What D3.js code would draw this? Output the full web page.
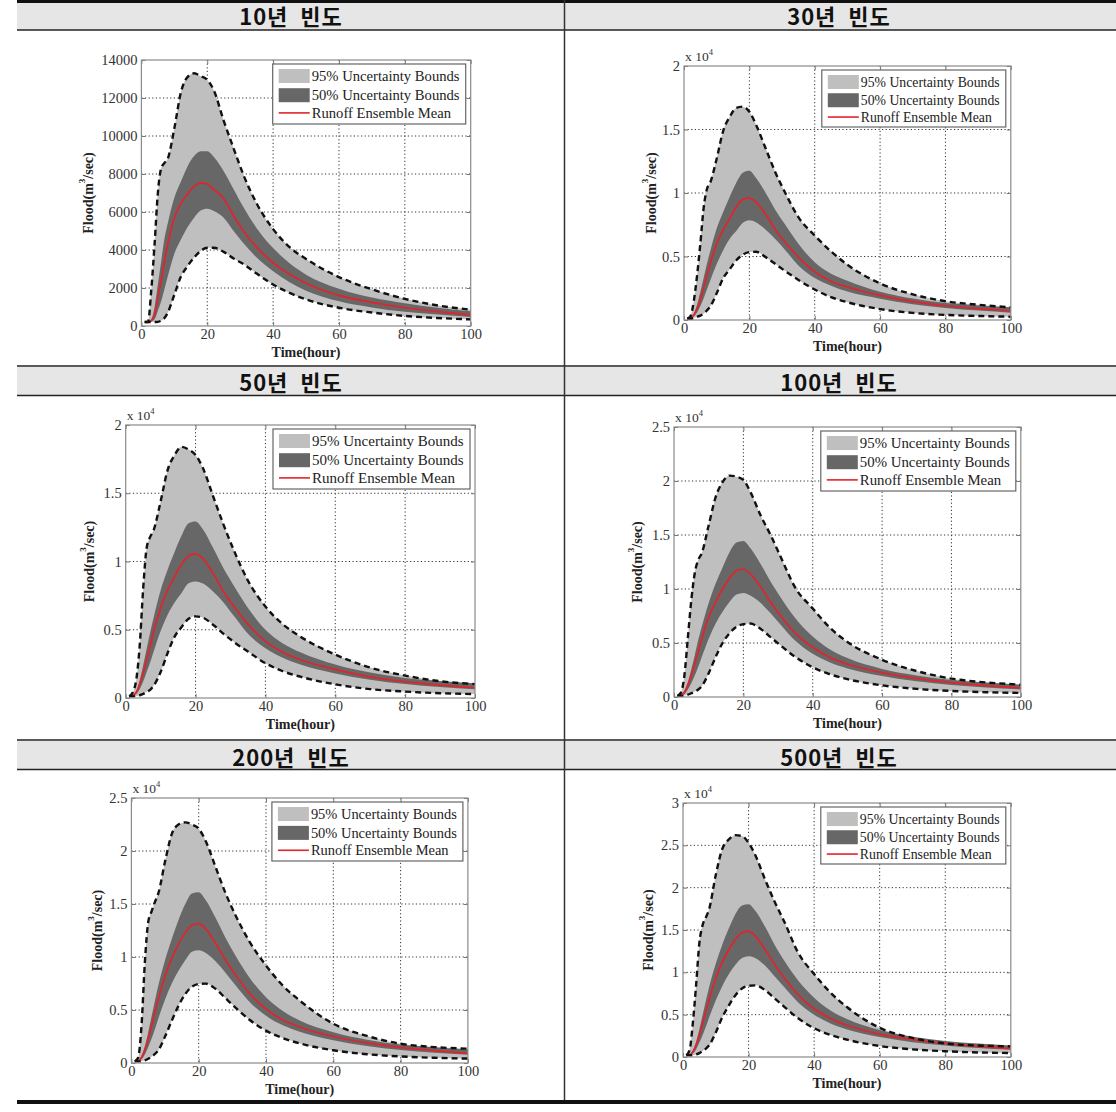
<!DOCTYPE html>
<html><head><meta charset="utf-8">
<script src="https://cdn.jsdelivr.net/npm/d3@7"></script>
<style>body{margin:0;background:#fff}svg{display:block}</style>
</head><body>
<script>
// ---------- data ----------
const T = [1,2,3,4,5,6,7,8,10,12,14,16,18,20,22,25,28,31,35,40,45,50,60,70,80,90,100];
const titles = ["10년 빈도","30년 빈도","50년 빈도","100년 빈도","200년 빈도","500년 빈도"];
const yMax = [14000,20000,20000,25000,25000,30000];
const yTickStep = [2000,5000,5000,5000,5000,5000];
const yScaled = [false,true,true,true,true,true];
const xTicks = [0,20,40,60,80,100];
const legendLabels = ["95% Uncertainty Bounds","50% Uncertainty Bounds","Runoff Ensemble Mean"];
const xLabel = "Time(hour)";

const u95_10 = [210,210,1900,4300,7000,8300,8580,8800,10400,12300,13100,13300,13150,12950,12400,10800,9350,7950,6450,5100,4150,3530,2575,1930,1430,1080,860];
const u50_10 = [200,200,350,1000,2200,3400,4600,5400,6750,7600,8400,8950,9200,9200,8900,8150,7200,6250,5150,4100,3300,2700,1960,1500,1200,960,770];
const mean_10 = [200,200,280,600,1500,2400,3400,4300,5700,6450,6950,7350,7520,7480,7180,6700,5800,5000,4150,3330,2720,2250,1610,1240,960,760,580];
const l50_10 = [200,200,240,350,800,1300,1950,2600,3800,4550,5200,5700,6080,6170,6050,5700,5000,4350,3600,2880,2300,1860,1300,980,750,600,470];
const l95_10 = [210,210,210,210,220,280,420,700,1650,2600,3150,3600,3950,4120,4120,3900,3550,3260,2760,2180,1740,1400,960,710,530,420,350];

const u95_30 = [100,300,1500,3500,6000,8800,10300,10800,12700,14900,16000,16700,16800,16400,15400,13500,11600,10000,8100,6650,5400,4350,2880,2020,1480,1200,1000];
const u50_30 = [100,200,500,1200,2200,3300,4400,5400,7200,8500,9700,10800,11600,11750,11200,10000,8650,7500,6000,4550,3650,3100,2230,1690,1340,1150,1000];
const mean_30 = [100,200,400,900,1600,2500,3500,4400,6000,7100,8000,8900,9500,9600,9300,8300,7100,6100,4950,3800,3050,2600,1940,1450,1120,900,730];
const l50_30 = [100,150,300,600,1100,1700,2400,3100,4400,5500,6400,7000,7650,7860,7700,7100,6350,5500,4300,3300,2700,2240,1680,1240,940,740,580];
const l95_30 = [100,100,150,250,350,500,750,1050,2100,3300,4000,4700,5150,5350,5370,4950,4400,3850,3150,2400,1800,1400,860,560,400,320,260];

const u95_50 = [120,400,1300,3800,8000,11000,11800,12300,14400,16700,17800,18400,18200,17800,16900,14800,12700,10800,8600,6700,5400,4500,3180,2230,1640,1230,1020];
const u50_50 = [120,200,500,1300,2400,3600,4800,5900,7900,9400,10700,11900,12800,12930,12400,11000,9500,8200,6600,5000,4000,3350,2450,1860,1470,1250,1080];
const mean_50 = [120,200,400,1000,1800,2800,3800,4900,6600,7900,8900,9800,10400,10560,10250,9150,7800,6700,5400,4150,3350,2800,2100,1550,1200,950,750];
const l50_50 = [120,150,300,650,1200,1900,2600,3400,4900,6100,7000,7700,8400,8540,8400,7800,7000,6000,4700,3650,2950,2450,1800,1340,1020,800,640];
const l95_50 = [120,120,150,200,300,450,600,900,1900,3300,4500,5200,5800,5980,5900,5370,4700,4100,3400,2550,1960,1560,1000,650,470,350,290];

const u95_100 = [100,400,2000,5500,9000,11500,12700,13300,15900,18500,19900,20500,20400,20100,19000,16800,14900,12800,10100,8200,6400,5100,3450,2400,1700,1350,1140];
const u50_100 = [100,200,600,1400,2600,3900,5300,6500,8700,10500,12000,13400,14300,14450,13800,12300,10600,9100,7300,5600,4400,3600,2600,2000,1580,1340,1150];
const mean_100 = [100,200,400,1100,2000,3100,4200,5400,7400,8800,10000,11000,11700,11830,11400,10200,8700,7400,5900,4600,3650,3050,2250,1700,1330,1050,830];
const l50_100 = [100,150,300,700,1300,2000,2800,3700,5400,6800,7900,8800,9500,9640,9400,8700,7700,6600,5200,4000,3200,2650,1950,1450,1100,870,700];
const l95_100 = [100,100,150,220,350,500,700,1000,2200,3700,5000,5900,6500,6750,6800,6300,5500,4700,3700,2750,2100,1650,1080,750,560,440,380];

const u95_200 = [150,500,3500,9500,13300,14300,15200,16000,19000,21600,22500,22700,22500,22100,21000,18500,16000,13900,11500,9200,7300,5900,3700,2550,1820,1500,1350];
const u50_200 = [150,250,700,1600,2900,4400,5900,7300,9700,11700,13500,15000,16000,16100,15400,13700,11800,10100,8100,6200,4900,4000,2900,2200,1750,1480,1280];
const mean_200 = [150,200,500,1200,2300,3500,4800,6000,8200,9900,11200,12300,13000,13150,12700,11300,9700,8300,6600,5100,4050,3400,2500,1900,1480,1170,920];
const l50_200 = [150,150,350,800,1500,2300,3200,4200,6000,7500,8700,9700,10500,10630,10400,9600,8500,7300,5800,4450,3550,2950,2150,1600,1230,970,780];
const l95_200 = [150,150,180,250,400,600,850,1200,2500,4000,5400,6500,7200,7450,7490,7000,6100,5200,4100,3050,2350,1850,1200,830,620,490,420];

const u95_500 = [200,800,4000,8500,13500,15600,16500,17500,21500,24600,25700,26200,26100,25300,23900,21000,18300,15900,12400,9800,7600,5900,3450,2250,1600,1350,1260];
const u50_500 = [200,300,800,1800,3300,5000,6700,8300,11000,13300,15200,16900,17900,18050,17300,15400,13200,11300,9100,7000,5500,4500,3200,2400,1900,1580,1350];
const mean_500 = [200,250,600,1400,2600,4000,5400,6800,9300,11200,12700,13900,14700,14840,14300,12700,10900,9300,7400,5700,4550,3750,2700,2050,1600,1260,1000];
const l50_500 = [200,200,400,900,1700,2600,3600,4700,6700,8400,9800,10900,11700,11890,11700,10800,9500,8200,6500,5000,3950,3250,2350,1750,1350,1050,850];
const l95_500 = [200,200,220,300,450,700,1000,1400,2900,4700,6100,7300,8100,8400,8460,7900,6900,5900,4600,3400,2600,2050,1300,900,680,540,470];

const panelSeries = [
  [u95_10,u50_10,mean_10,l50_10,l95_10],
  [u95_30,u50_30,mean_30,l50_30,l95_30],
  [u95_50,u50_50,mean_50,l50_50,l95_50],
  [u95_100,u50_100,mean_100,l50_100,l95_100],
  [u95_200,u50_200,mean_200,l50_200,l95_200],
  [u95_500,u50_500,mean_500,l50_500,l95_500]
];

// ---------- layout ----------
const W = 1116, H = 1112;
const layout = [
  {x0:141.4,x1:470.7,y0:60,y1:326,lw:193,lh:60,ylab:53,tx:291,ty:24},
  {x0:684,x1:1010.8,y0:66,y1:320,lw:184,lh:57,ylab:33,tx:839,ty:24},
  {x0:125.7,x1:475,y0:425,y1:698,lw:197,lh:60,ylab:37,tx:291,ty:390},
  {x0:674,x1:1020.8,y0:427,y1:697,lw:195,lh:60,ylab:37,tx:839,ty:390},
  {x0:131.4,x1:467.9,y0:798,y1:1063,lw:191,lh:59,ylab:34,tx:291,ty:765},
  {x0:683,x1:1010.8,y0:803,y1:1057,lw:185,lh:57,ylab:35,tx:839,ty:765}
];
const C95 = "#bfbfbf", C50 = "#676767", CRED = "#e3232b";
const SERIF = "'Liberation Serif','Times New Roman',serif";

const svg = d3.select("body").append("svg").attr("width",W).attr("height",H);

// ---------- table frame ----------
const bands = [[3,30],[367,395],[741,769]];
bands.forEach(([a,b])=>{
  svg.append("rect").attr("x",17).attr("y",a).attr("width",W-17).attr("height",b-a).attr("fill","#e6e6e6");
});
svg.append("rect").attr("x",17).attr("y",0).attr("width",W-17).attr("height",3).attr("fill","#111");
[[30,1.6],[366,1.6],[395.5,1.6],[740,1.6],[769.5,1.6]].forEach(([y,w])=>{
  svg.append("line").attr("x1",17).attr("x2",W).attr("y1",y).attr("y2",y).attr("stroke","#222").attr("stroke-width",w);
});
svg.append("rect").attr("x",17).attr("y",1100).attr("width",W-17).attr("height",4).attr("fill","#111");
svg.append("line").attr("x1",564.5).attr("x2",564.5).attr("y1",0).attr("y2",1100).attr("stroke","#333").attr("stroke-width",1.5);

// ---------- panels ----------
panelSeries.forEach((ser,i)=>{
  const L = layout[i];
  const g = svg.append("g");
  const x = d3.scaleLinear().domain([0,100]).range([L.x0,L.x1]);
  const y = d3.scaleLinear().domain([0,yMax[i]]).range([L.y1,L.y0]);
  const yt = d3.range(0,yMax[i]+1,yTickStep[i]);

  // title
  svg.append("text").attr("x",L.tx).attr("y",L.ty+1).attr("text-anchor","middle")
    .attr("font-family","'Noto Sans CJK KR','Noto Sans',sans-serif").attr("font-weight","bold")
    .attr("font-size",22).attr("letter-spacing",1).attr("word-spacing",6).attr("fill","#111")
    .text(titles[i]);

  // grid (under fills)
  const grid = g.append("g").attr("stroke","#333").attr("stroke-width",1).attr("stroke-dasharray","1.2,2.4");
  xTicks.slice(1,-1).forEach(t=>grid.append("line").attr("x1",x(t)).attr("x2",x(t)).attr("y1",L.y0).attr("y2",L.y1));
  yt.slice(1,-1).forEach(v=>grid.append("line").attr("x1",L.x0).attr("x2",L.x1).attr("y1",y(v)).attr("y2",y(v)));

  const rows = T.map((t,k)=>({t,u95:ser[0][k],u50:ser[1][k],m:ser[2][k],l50:ser[3][k],l95:ser[4][k]}));
  const curve = d3.curveMonotoneX;
  g.append("path").datum(rows).attr("fill",C95)
    .attr("d",d3.area().curve(curve).x(d=>x(d.t)).y0(d=>y(d.l95)).y1(d=>y(d.u95)));
  g.append("path").datum(rows).attr("fill",C50)
    .attr("d",d3.area().curve(curve).x(d=>x(d.t)).y0(d=>y(d.l50)).y1(d=>y(d.u50)));
  g.append("path").datum(rows).attr("fill","none").attr("stroke",CRED).attr("stroke-width",1.7)
    .attr("d",d3.line().curve(curve).x(d=>x(d.t)).y(d=>y(d.m)));
  ["u95","l95"].forEach(key=>{
    g.append("path").datum(rows).attr("fill","none").attr("stroke","#111").attr("stroke-width",2.4)
      .attr("stroke-dasharray","6,4")
      .attr("d",d3.line().curve(curve).x(d=>x(d.t)).y(d=>y(d[key])));
  });

  // axes
  const fmtY = yScaled[i] ? (v=>d3.format("~g")(v/10000)) : d3.format("d");
  const axStyle = sel=>{
    sel.select(".domain").remove();
    sel.selectAll(".tick line").attr("stroke","#777");
    sel.selectAll(".tick text").attr("font-family",SERIF).attr("font-size",14.5).attr("fill","#333");
  };
  g.append("g").attr("transform",`translate(0,${L.y1})`)
    .call(d3.axisBottom(x).tickValues(xTicks).tickSizeInner(-4).tickSizeOuter(0).tickPadding(3))
    .call(axStyle);
  g.append("g").attr("transform",`translate(${L.x0},0)`)
    .call(d3.axisLeft(y).tickValues(yt).tickFormat(fmtY).tickSizeInner(-4).tickSizeOuter(0).tickPadding(4))
    .call(axStyle);
  g.append("g").attr("transform",`translate(0,${L.y0})`)
    .call(d3.axisTop(x).tickValues(xTicks).tickFormat("").tickSizeInner(-4).tickSizeOuter(0))
    .call(axStyle);
  g.append("g").attr("transform",`translate(${L.x1},0)`)
    .call(d3.axisRight(y).tickValues(yt).tickFormat("").tickSizeInner(-4).tickSizeOuter(0))
    .call(axStyle);
  g.append("rect").attr("x",L.x0).attr("y",L.y0).attr("width",L.x1-L.x0).attr("height",L.y1-L.y0)
    .attr("fill","none").attr("stroke","#8a8a8a").attr("stroke-width",1.2);

  // exponent label
  if (yScaled[i]) {
    const ex = g.append("text").attr("x",L.x0+1).attr("y",L.y0-5)
      .attr("font-family",SERIF).attr("font-size",13.5).attr("fill","#333").text("x 10");
    ex.append("tspan").attr("dy",-6).attr("font-size",8.5).text("4");
  }

  // axis labels
  g.append("text").attr("x",(L.x0+L.x1)/2).attr("y",L.y1+31).attr("text-anchor","middle")
    .attr("font-family",SERIF).attr("font-weight","bold").attr("font-size",14).attr("fill","#222").text(xLabel);
  const yl = g.append("text").attr("transform",`translate(${L.x0-L.ylab},${(L.y0+L.y1)/2}) rotate(-90)`)
    .attr("text-anchor","middle").attr("dominant-baseline","central")
    .attr("font-family",SERIF).attr("font-weight","bold").attr("font-size",14).attr("fill","#222");
  yl.append("tspan").text("Flood(m");
  yl.append("tspan").attr("dy",-6).attr("font-size",9).text("3");
  yl.append("tspan").attr("dy",6).text("/sec)");

  // legend
  const lx = L.x1-5-L.lw, ly = L.y0+4;
  const lfs = Math.min(15, (L.lw-45)/10.11);
  const lg = g.append("g");
  lg.append("rect").attr("x",lx).attr("y",ly).attr("width",L.lw).attr("height",L.lh)
    .attr("fill","#fff").attr("stroke","#666").attr("stroke-width",1.2);
  const rowY = [ly+12, ly+12+L.lh*0.32, ly+12+L.lh*0.615];
  lg.append("rect").attr("x",lx+6).attr("y",rowY[0]-7).attr("width",31).attr("height",14).attr("fill",C95);
  lg.append("rect").attr("x",lx+6).attr("y",rowY[1]-7).attr("width",31).attr("height",14).attr("fill",C50);
  lg.append("line").attr("x1",lx+6).attr("x2",lx+37).attr("y1",rowY[2]).attr("y2",rowY[2]).attr("stroke",CRED).attr("stroke-width",1.6);
  legendLabels.forEach((s,k)=>{
    lg.append("text").attr("x",lx+39).attr("y",rowY[k]+5).attr("font-family",SERIF)
      .attr("font-size",lfs).attr("fill","#222").text(s);
  });
});
</script>
</body></html>
